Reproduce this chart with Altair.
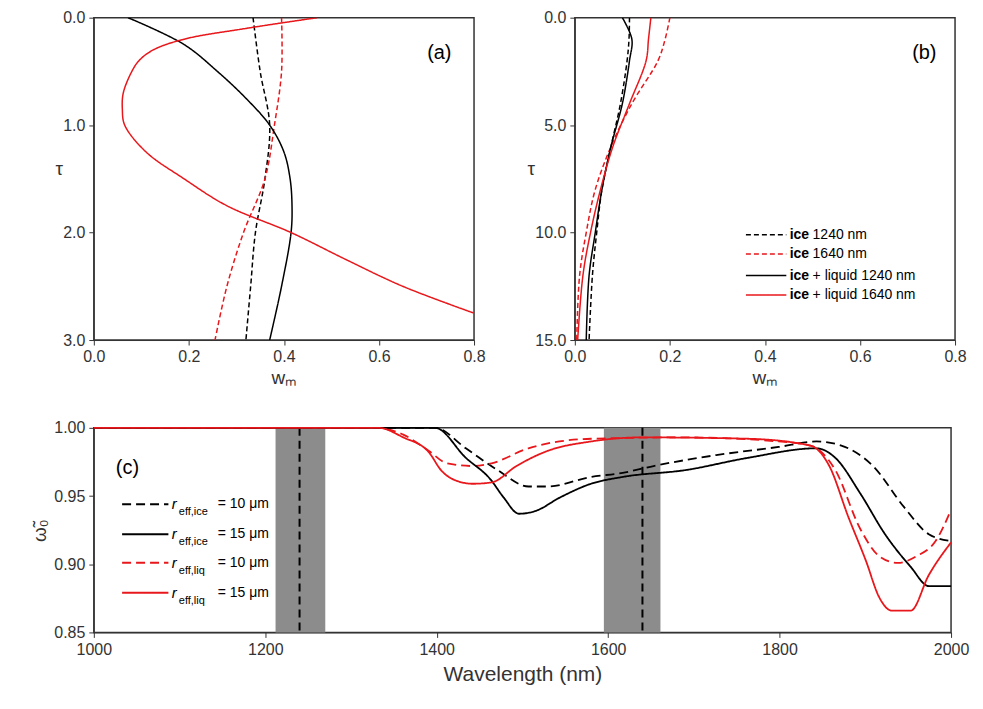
import pandas as pd
import altair as alt

FONT = "Liberation Sans"

# ---- panel (a) : tau 0-3 ----
a_tau_bd = [0, 0.5, 1.0, 1.5, 2.0, 2.5, 3.0]
a_w_bd = [0.335, 0.35, 0.37, 0.36, 0.34, 0.33, 0.32]
a_tau_rd = [0, 0.5, 1.0, 1.5, 2.0, 2.5, 3.0]
a_w_rd = [0.395, 0.395, 0.38, 0.36, 0.315, 0.28, 0.255]
a_tau_bs = [0, 0.25, 0.5, 0.75, 1.0, 1.25, 1.5, 1.75, 2.0, 2.5, 3.0]
a_w_bs = [0.072, 0.19, 0.26, 0.32, 0.37, 0.40, 0.413, 0.417, 0.415, 0.395, 0.37]
a_tau_rs = [0, 0.1, 0.2, 0.3, 0.4, 0.5, 0.7, 0.85, 1.0, 1.25, 1.5, 1.75, 2.0, 2.25, 2.5, 2.75]
a_w_rs = [0.47, 0.32, 0.19, 0.125, 0.095, 0.08, 0.062, 0.06, 0.065, 0.11, 0.19, 0.28, 0.415, 0.53, 0.65, 0.8]

# ---- panel (b) : tau 0-15 ----
b_tau = [0, 1, 2, 4, 6, 8, 10, 12, 15]
b_w_bd = [0.115, 0.114, 0.11, 0.096, 0.076, 0.057, 0.046, 0.037, 0.03]
b_w_rd = [0.2, 0.19, 0.175, 0.12, 0.076, 0.043, 0.024, 0.01, 0.004]
b_w_bs = [0.10, 0.12, 0.115, 0.10, 0.076, 0.057, 0.043, 0.03, 0.024]
b_w_rs = [0.16, 0.155, 0.15, 0.115, 0.08, 0.054, 0.033, 0.017, 0.006]

# ---- panel (c) : single scattering albedo ----
c_nm_bd = [1000, 1398, 1434, 1471, 1507, 1529, 1580, 1617, 1653, 1726, 1799, 1843, 1872, 1909, 1945, 1974, 2000]
c_w_bd = [1.0, 1.0, 0.985, 0.969, 0.957, 0.957, 0.964, 0.967, 0.972, 0.98, 0.986, 0.99, 0.987, 0.972, 0.942, 0.922, 0.917]
c_nm_bs = [1000, 1398, 1434, 1463, 1478, 1496, 1515, 1544, 1580, 1617, 1690, 1763, 1843, 1865, 1894, 1923, 1953, 1974, 2000]
c_w_bs = [1.0, 1.0, 0.978, 0.962, 0.949, 0.937, 0.939, 0.949, 0.959, 0.964, 0.969, 0.978, 0.985, 0.978, 0.952, 0.922, 0.898, 0.884, 0.884]
c_nm_rd = [1000, 1330, 1361, 1391, 1412, 1442, 1464, 1507, 1580, 1690, 1799, 1836, 1865, 1894, 1916, 1938, 1960, 1982, 2000]
c_w_rd = [1.0, 1.0, 0.995, 0.983, 0.974, 0.972, 0.974, 0.985, 0.992, 0.993, 0.99, 0.987, 0.969, 0.926, 0.906, 0.901, 0.906, 0.917, 0.94]
c_nm_rs = [1000, 1332, 1361, 1391, 1405, 1420, 1442, 1464, 1493, 1529, 1580, 1639, 1763, 1836, 1858, 1880, 1901, 1916, 1931, 1953, 1974, 2000]
c_w_rs = [1.0, 1.0, 0.993, 0.982, 0.969, 0.962, 0.959, 0.96, 0.972, 0.983, 0.99, 0.993, 0.992, 0.987, 0.972, 0.935, 0.902, 0.876, 0.866, 0.866, 0.892, 0.916]

bands_lo = [1212, 1595]
bands_hi = [1270, 1661]
band_centres = [1240, 1640]

series = ["bd", "rd", "bs", "rs"]
colors = ["black", "#e8171b", "black", "#e8171b"]
dashes = [[5, 3], [5, 3], [1, 0], [1, 0]]
dashes_c = [[9, 5], [9, 5], [1, 0], [1, 0]]


def frame(pairs, xname, yname):
    rows = []
    for s, xs, ys in pairs:
        for i, (x, y) in enumerate(zip(xs, ys)):
            rows.append({"s": s, xname: x, yname: y, "o": i})
    return pd.DataFrame(rows)


col = alt.Color("s:N", scale=alt.Scale(domain=series, range=colors), legend=None)
dash = alt.StrokeDash("s:N", scale=alt.Scale(domain=series, range=dashes), legend=None)
dash_c = alt.StrokeDash("s:N", scale=alt.Scale(domain=series, range=dashes_c), legend=None)


def tau_panel(df, tmax, label, lx, extra=None):
    xs = alt.Scale(domain=[0, 0.8], nice=False)
    ys = alt.Scale(domain=[0, tmax], reverse=True, nice=False)
    lines = alt.Chart(df).mark_line(strokeWidth=1.5, clip=True, interpolate="catmull-rom").encode(
        x=alt.X("w:Q", scale=xs, title="wₘ",
                axis=alt.Axis(values=[0, 0.2, 0.4, 0.6, 0.8], format=".1f")),
        y=alt.Y("tau:Q", scale=ys, title="τ",
                axis=alt.Axis(tickCount=4, format=".1f", titleAngle=0)),
        order="o:Q", color=col, strokeDash=dash)
    tag = alt.Chart(pd.DataFrame({"t": [label]})).mark_text(
        font=FONT, fontSize=20, align="left").encode(
        text="t:N", x=alt.value(lx), y=alt.value(35))
    layers = [lines, tag]
    if extra is not None:
        leg = pd.DataFrame(extra)
        layers += [
            alt.Chart(leg).mark_rule(strokeWidth=1.5).encode(
                x=alt.X("x1:Q", scale=xs), x2="x2", y=alt.Y("tau:Q", scale=ys),
                color=col, strokeDash=dash),
            alt.Chart(leg).mark_text(font=FONT, fontSize=14, fontWeight="bold", align="left").encode(
                x=alt.X("tx:Q", scale=xs), y=alt.Y("tau:Q", scale=ys), text="bold:N"),
            alt.Chart(leg).mark_text(font=FONT, fontSize=14, align="left", dx=23).encode(
                x=alt.X("tx:Q", scale=xs), y=alt.Y("tau:Q", scale=ys), text="rest:N"),
        ]
    return alt.layer(*layers).properties(width=381, height=323)


dfa = frame([("bd", a_w_bd, a_tau_bd), ("rd", a_w_rd, a_tau_rd),
             ("bs", a_w_bs, a_tau_bs), ("rs", a_w_rs, a_tau_rs)], "w", "tau")
dfb = frame([("bd", b_w_bd, b_tau), ("rd", b_w_rd, b_tau),
             ("bs", b_w_bs, b_tau), ("rs", b_w_rs, b_tau)], "w", "tau")

pa = tau_panel(dfa, 3, "(a)", 334)

# legend for (b), placed in data units
leg_b_tau = [10.1, 11.0, 12.0, 12.9]
leg_b_rest = [" 1240 nm", " 1640 nm", " + liquid 1240 nm", " + liquid 1640 nm"]
pb = tau_panel(dfb, 15, "(b)", 338, extra={
    "s": series, "tau": leg_b_tau, "x1": [0.36] * 4, "x2": [0.445] * 4,
    "tx": [0.452] * 4, "rest": leg_b_rest, "bold": ["ice"] * 4})

# panel (c)
dfc = frame([("bd", c_nm_bd, c_w_bd), ("rd", c_nm_rd, c_w_rd),
             ("bs", c_nm_bs, c_w_bs), ("rs", c_nm_rs, c_w_rs)], "nm", "om")
xs_c = alt.Scale(domain=[1000, 2000], nice=False)
ys_c = alt.Scale(domain=[0.85, 1.0], nice=False)
bands = alt.Chart(pd.DataFrame({"lo": bands_lo, "hi": bands_hi})).mark_rect(color="#8c8c8c").encode(
    x=alt.X("lo:Q", scale=xs_c), x2="hi")
vlines = alt.Chart(pd.DataFrame({"c": band_centres})).mark_rule(
    color="black", strokeDash=[8, 5], strokeWidth=2).encode(x=alt.X("c:Q", scale=xs_c))
clines = alt.Chart(dfc).mark_line(strokeWidth=1.8, interpolate="monotone").encode(
    x=alt.X("nm:Q", scale=xs_c, title="Wavelength (nm)",
            axis=alt.Axis(values=[1000, 1200, 1400, 1600, 1800, 2000], format="d",
                          titleFontSize=21, titlePadding=6)),
    y=alt.Y("om:Q", scale=ys_c, title="ω̃₀",
            axis=alt.Axis(values=[0.85, 0.9, 0.95, 1.0], format=".2f")),
    order="o:Q", color=col, strokeDash=dash_c)

leg_c_series = ["bd", "bs", "rd", "rs"]
leg_c_y = [0.944, 0.922, 0.901, 0.879]
leg_c_sub = ["eff,ice", "eff,ice", "eff,liq", "eff,liq"]
leg_c_val = ["= 10 μm", "= 15 μm", "= 10 μm", "= 15 μm"]
legc = pd.DataFrame({"s": leg_c_series, "y": leg_c_y, "x1": 1033, "x2": 1087, "tx": 1091,
                     "sub": leg_c_sub, "val": leg_c_val, "r": "r"})
legc_lines = alt.Chart(legc).mark_rule(strokeWidth=2).encode(
    x=alt.X("x1:Q", scale=xs_c), x2="x2", y=alt.Y("y:Q", scale=ys_c), color=col, strokeDash=dash_c)
legc_r = alt.Chart(legc).mark_text(font=FONT, fontSize=15, fontStyle="italic",
                                   align="left").encode(x=alt.X("tx:Q", scale=xs_c),
                                                        y=alt.Y("y:Q", scale=ys_c), text="r:N")
legc_sub = alt.Chart(legc).mark_text(font=FONT, fontSize=11, align="left", dx=7, dy=8).encode(
    x=alt.X("tx:Q", scale=xs_c), y=alt.Y("y:Q", scale=ys_c), text="sub:N")
legc_val = alt.Chart(legc).mark_text(font=FONT, fontSize=14, align="left", dx=46).encode(
    x=alt.X("tx:Q", scale=xs_c), y=alt.Y("y:Q", scale=ys_c), text="val:N")
tagc = alt.Chart(pd.DataFrame({"t": ["(c)"]})).mark_text(
    font=FONT, fontSize=20, align="left").encode(text="t:N", x=alt.value(22), y=alt.value(40))
pc = alt.layer(bands, vlines, clines, legc_lines, legc_r, legc_sub, legc_val, tagc).properties(
    width=859, height=205)

chart = alt.vconcat(
    alt.hconcat(pa, pb, spacing=40), pc, spacing=30
).resolve_scale(strokeDash="independent").properties(
    padding={"left": 22, "top": 0, "right": 5, "bottom": 5}
).configure_view(
    stroke="#333", strokeWidth=1.5
).configure_axis(
    labelFont=FONT, titleFont=FONT, labelFontSize=16, titleFontSize=19,
    labelColor="#333", titleColor="#333", grid=False, domainColor="#333",
    tickColor="#333", labelPadding=4, titleFontWeight="normal", labelFlush=False
)

chart.save("out.html", embed_options={"renderer": "svg", "actions": False})
